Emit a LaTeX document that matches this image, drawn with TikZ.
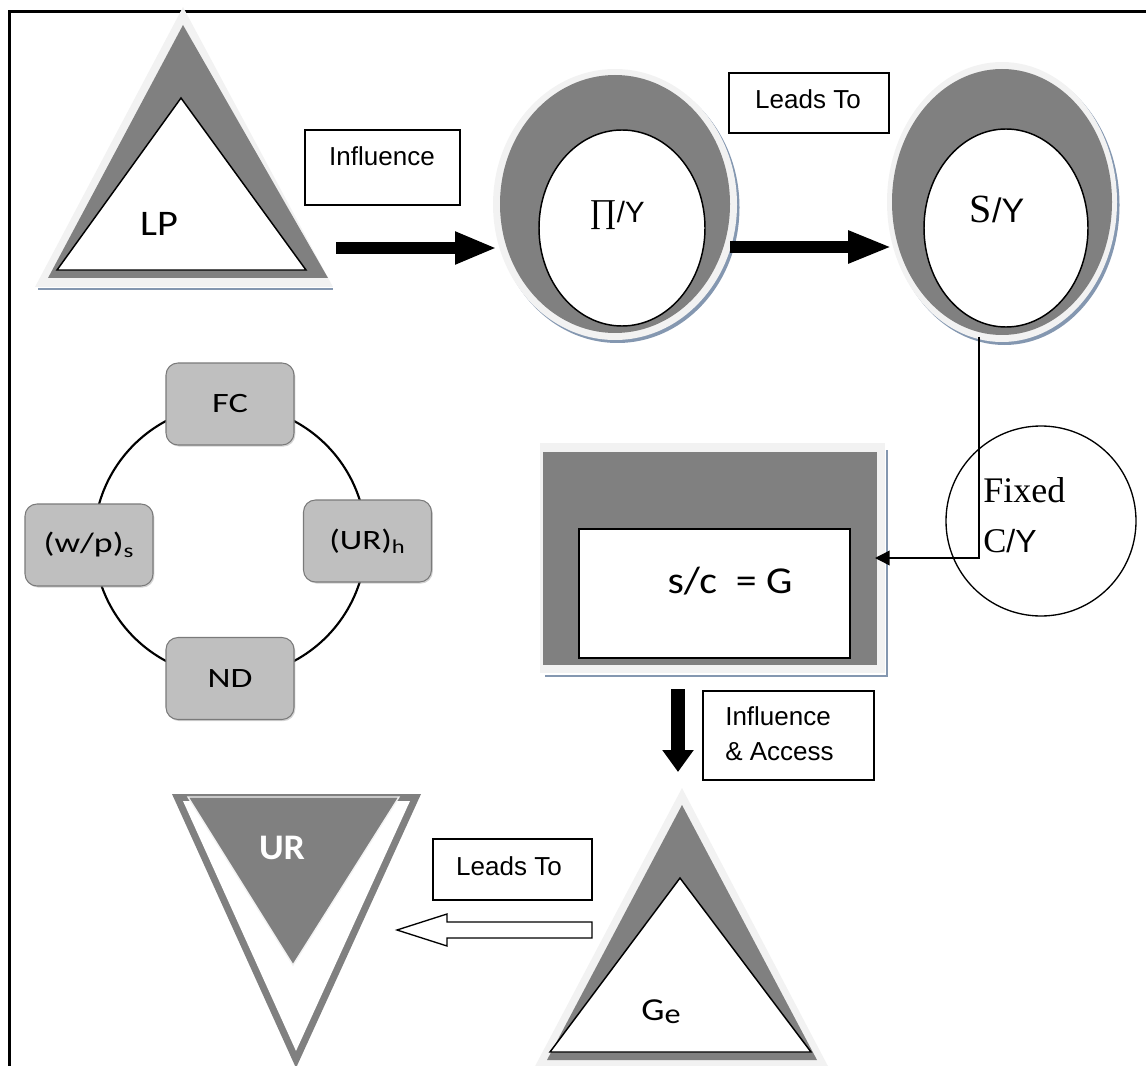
\documentclass[tikz,border=0pt]{standalone}
\usepackage{fontspec}
\setmainfont{Liberation Serif}
\newfontfamily\arialf{Liberation Sans}
\newfontfamily\calf{Carlito}
\newfontfamily\tnrf{Liberation Serif}
\usetikzlibrary{arrows.meta,shadows,calc}
\definecolor{lightgr}{HTML}{F2F2F2}
\definecolor{midgr}{HTML}{808080}
\definecolor{boxgr}{HTML}{BFBFBF}
\definecolor{boxedge}{HTML}{7A7A7A}
\definecolor{shblue}{RGB}{132,151,176}
\newcommand\fsz[1]{\fontsize{#1}{#1}\selectfont}
\newcommand\wide[2]{\scalebox{#1}[1]{#2}}
\tikzset{
  arialtxt/.style={font={\arialf\fsz{19.5pt}}, inner sep=0pt},
  lblbox/.style={draw, line width=1.1pt, fill=white, inner sep=0pt},
  cycbox/.style={draw=boxedge, line width=0.8pt, fill=boxgr, rounded corners=9pt,
    minimum width=96pt, minimum height=61.5pt, font={\calf\fsz{21pt}},
    drop shadow={opacity=0.35, shadow xshift=1pt, shadow yshift=-1.2pt}},
  thickarrow/.style={line width=9pt, -{Triangle[length=31.5pt, width=22.5pt]}},
  outline/.style={line width=1.1pt, fill=white}
}
\begin{document}
\begin{tikzpicture}[x=0.75pt,y=-0.75pt]
\useasboundingbox (0,0) rectangle (1146,1066);
% frame
\draw[line width=2.25pt] (9,1075) -- (9,12) -- (1150,12);

% ---------- LP triangle ----------
\draw[shblue, line width=1.5pt] (38,289.5) -- (333,289.5);
\fill[lightgr] (183,7) -- (333,287) -- (35,287) -- cycle;
\fill[midgr] (183,25) -- (328,278) -- (48,278) -- cycle;
\draw[outline] (181,98) -- (306,270) -- (57,270) -- cycle;
\node[font={\calf\fsz{27pt}}, anchor=base, inner sep=0pt] (lp) at (159,236) {\wide{1.12}{LP}};

% ---------- Influence label ----------
\node[lblbox, minimum width=116.25pt, minimum height=56.25pt] (inflbox) at (382.5,167.5) {};
\node[arialtxt, anchor=base] (infl) at (382,166) {Influence};

% ---------- Pi/Y ellipse ----------
\fill[shblue] (617.5,207.5) ellipse [x radius=122, y radius=135.5];
\fill[lightgr] (615,204.5) ellipse [x radius=122, y radius=135.5];
\fill[midgr] (615,204) ellipse [x radius=115, y radius=129];
\draw[outline] (622,228) ellipse [x radius=83, y radius=98];
\node[anchor=base, inner sep=0pt] (piy) at (617,223) {{\tnrf\fsz{25pt}∏}{\arialf\fsz{22pt}/Y}};

% ---------- Leads To (top) ----------
\node[lblbox, minimum width=120pt, minimum height=45pt] (leadbox1) at (809,103) {};
\node[arialtxt, anchor=base] (lead1) at (808,109) {Leads To};

% ---------- S/Y ellipse ----------
\fill[shblue] (1004.5,205) ellipse [x radius=115, y radius=140];
\fill[lightgr] (1002,202) ellipse [x radius=115, y radius=140];
\fill[midgr] (1002,202) ellipse [x radius=110, y radius=133];
\draw[outline] (1006,228) ellipse [x radius=82, y radius=99];
\node[anchor=base, inner sep=0pt] (sy) at (997,223) {{\tnrf\fsz{30pt}S}{\arialf\fsz{25.5pt}/Y}};

% ---------- thick arrows ----------
\coordinate (a1s) at (336,248);
\coordinate (a1e) at (497,248);
\coordinate (a2s) at (730,247);
\coordinate (a2e) at (892,247);
\draw[thickarrow] (a1s) -- (a1e);
\draw[thickarrow, -{Triangle[length=33pt, width=22.5pt]}] (a2s) -- (a2e);

% ---------- cycle ----------
\draw[line width=1.6pt] (230,541) circle [radius=136];
\node[cycbox] (fc) at (230,404) {\wide{1.3}{FC}};
\node[cycbox] (wp) at (89,545) {\wide{1.28}{(w/p)\textsubscript{s}}};
\node[cycbox] (urh) at (367.5,541) {\wide{1.25}{(UR)\textsubscript{h}}};
\node[cycbox] (nd) at (230,678.5) {\wide{1.27}{ND}};

% ---------- s/c = G box ----------
\draw[shblue, line width=1.5pt] (887,450) -- (887,676) -- (545,676);
\fill[lightgr] (540,443) rectangle (885,673);
\fill[midgr] (543,452) rectangle (877,665);
\node[draw, line width=1.1pt, fill=white, minimum width=203.25pt, minimum height=96.75pt, inner sep=0pt] (sq) at (714.5,593.5) {};
\node[font={\calf\fsz{28.5pt}}, anchor=base, inner sep=0pt] (sct) at (730,593) {\wide{1.1}{s/c\ \ = G}};

% ---------- Fixed C/Y circle ----------
\draw[line width=1pt] (1041,521) circle [radius=95];
\node[anchor=base west, inner sep=0pt, font={\tnrf\fsz{27pt}}] (fixed) at (983,502) {Fixed};
\node[anchor=base west, inner sep=0pt] (cy) at (983,552) {{\tnrf\fsz{26pt}C}{\arialf\fsz{24pt}/Y}};

% connector S/Y -> box
\coordinate (syb) at (979,337);
\coordinate (sqr) at (875,558);
\draw[line width=1.1pt, -{Triangle[length=11pt, width=11pt]}] (syb) |- (sqr);

% ---------- down arrow + label ----------
\coordinate (das) at (678,689);
\coordinate (dae) at (678,772);
\draw[line width=11pt, -{Triangle[length=16.5pt, width=22.5pt]}] (das) -- (dae);
\node[lblbox, minimum width=128.25pt, minimum height=66.75pt] (iabox) at (788.5,735.5) {};
\node[arialtxt, anchor=base west] (ia1) at (725,725) {Influence};
\node[arialtxt, anchor=base west] (ia2) at (725,760) {\& Access};

% ---------- Ge triangle ----------
\fill[lightgr] (682,788) -- (830,1070) -- (533,1070) -- cycle;
\fill[midgr] (682,805) -- (817,1060) -- (547,1060) -- cycle;
\draw[outline] (680,878) -- (811,1052) -- (550,1052) -- cycle;
\node[font={\calf\fsz{24pt}}, anchor=base, inner sep=0pt] (ge) at (661,1020) {\wide{1.15}{G\raisebox{-2.5pt}{\fsz{21pt}e}}};

% ---------- UR inverted triangle ----------
\fill[midgr] (172,794) -- (421,794) -- (296,1068) -- cycle;
\fill[white] (183,801) -- (410,801) -- (296,1051) -- cycle;
\draw[lightgr, fill=midgr, line width=1pt] (188,797) -- (399,797) -- (293,965) -- cycle;
\node[font={\calf\bfseries\fsz{27pt}}, text=white, anchor=base, inner sep=0pt] (ur) at (282,859) {\wide{1.05}{UR}};

% ---------- Leads To (bottom) + hollow arrow ----------
\node[lblbox, minimum width=119.25pt, minimum height=45.75pt] (leadbox2) at (512.5,869.5) {};
\node[arialtxt, anchor=base] (lead2) at (509,875) {Leads To};
\coordinate (hs) at (592,930);
\coordinate (ht) at (397,930);
\draw[line width=1pt, fill=white] ($(hs)+(0,-8)$) -- ($(ht)+(50,-8)$) -- ($(ht)+(50,-16)$) -- (ht)
  -- ($(ht)+(50,16)$) -- ($(ht)+(50,8)$) -- ($(hs)+(0,8)$) -- cycle;
\end{tikzpicture}
\end{document}
